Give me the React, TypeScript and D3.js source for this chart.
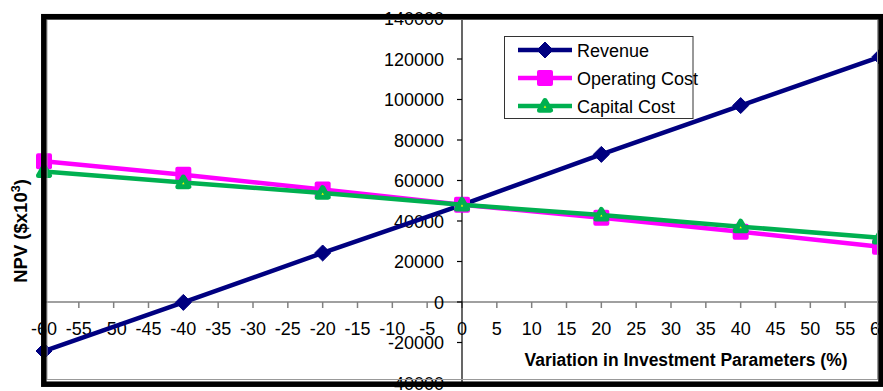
import React from "react";
import * as d3 from "d3";

// Sensitivity of NPV to variation in investment parameters
const variation = [-60, -40, -20, 0, 20, 40, 60];
const revenue = [-24200, -200, 24200, 48000, 72900, 97000, 121100];
const operatingCost = [69500, 62800, 55500, 48000, 41600, 34700, 27300];
const capitalCost = [64500, 59000, 53800, 48000, 43000, 37200, 31700];

const seriesNames = ["Revenue", "Operating Cost", "Capital Cost"];
const xTicks = d3.range(-60, 61, 5);
const yTicks = d3.range(-40000, 140001, 20000);

const W = 883;
const H = 391;
const FONT = "'Liberation Sans', Arial, sans-serif";

const NAVY = "#000080";
const MAGENTA = "#FF00FF";
const GREEN = "#00B050";
const YELLOW = "#FFFF00";

type Kind = "diamond" | "square" | "triangle";

function Marker({ kind, x, y }: { kind: Kind; x: number; y: number }) {
  if (kind === "diamond") {
    const r = 8;
    return (
      <path
        d={`M${x},${y - r}L${x + r},${y}L${x},${y + r}L${x - r},${y}Z`}
        fill={NAVY}
        stroke={NAVY}
        strokeWidth={1}
        strokeLinejoin="round"
      />
    );
  }
  if (kind === "square") {
    const s = 16;
    return <rect x={x - s / 2} y={y - s / 2} width={s} height={s} rx={2} fill={MAGENTA} />;
  }
  const h = 5.5;
  return (
    <path
      d={`M${x},${y - h}L${x + h},${y + h * 0.75}L${x - h},${y + h * 0.75}Z`}
      fill={YELLOW}
      stroke={GREEN}
      strokeWidth={5}
      strokeLinejoin="round"
    />
  );
}

export default function App() {
  const x = d3.scaleLinear().domain([-60, 60]).range([44, 880]);
  const y = d3.scaleLinear().domain([-40000, 140000]).range([383, 18.5]);

  const series: { name: string; values: number[]; color: string; kind: Kind }[] = [
    { name: seriesNames[0], values: revenue, color: NAVY, kind: "diamond" },
    { name: seriesNames[1], values: operatingCost, color: MAGENTA, kind: "square" },
    { name: seriesNames[2], values: capitalCost, color: GREEN, kind: "triangle" },
  ];

  const line = d3
    .line<number>()
    .x((_, i) => x(variation[i]))
    .y((d) => y(d));

  const legendRows = [50, 78, 106];

  return (
    <svg
      width={W}
      height={H}
      viewBox={`0 0 ${W} ${H}`}
      style={{ position: "absolute", left: 0, top: 0, background: "#fff" }}
      fontFamily={FONT}
    >
      <rect x={0} y={0} width={W} height={H} fill="#fff" />

      {/* horizontal axis at zero */}
      <line x1={x(-60)} x2={x(60)} y1={y(0)} y2={y(0)} stroke="#808080" strokeWidth={1.5} />
      {xTicks.map((t) => (
        <line key={`xt${t}`} x1={x(t)} x2={x(t)} y1={y(0)} y2={y(0) + 6} stroke="#808080" strokeWidth={1.5} />
      ))}
      {xTicks.map((t) => (
        <text key={`xl${t}`} x={x(t)} y={y(0) + 33} textAnchor="middle" fontSize={18} fill="#000">
          {t}
        </text>
      ))}

      {/* vertical axis at zero */}
      <line x1={x(0)} x2={x(0)} y1={y(140000)} y2={y(-40000)} stroke="#000" strokeWidth={1.2} />
      {yTicks.map((t) => (
        <line key={`yt${t}`} x1={x(0) - 5} x2={x(0)} y1={y(t)} y2={y(t)} stroke="#000" strokeWidth={1.2} />
      ))}
      {yTicks.map((t) => (
        <text key={`yl${t}`} x={x(0) - 18} y={y(t) + 6.5} textAnchor="end" fontSize={18} fill="#000">
          {t}
        </text>
      ))}

      {/* series */}
      {series.map((s) => (
        <g key={s.name}>
          <path d={line(s.values) ?? ""} fill="none" stroke={s.color} strokeWidth={4.5} />
          {s.values.map((v, i) => (
            <Marker key={i} kind={s.kind} x={x(variation[i])} y={y(v)} />
          ))}
        </g>
      ))}

      {/* legend */}
      <rect x={504.5} y={36.5} width={188.5} height={82} fill="#fff" stroke="#333" strokeWidth={1} />
      {series.map((s, i) => (
        <g key={`lg${s.name}`}>
          <line x1={518} x2={572} y1={legendRows[i]} y2={legendRows[i]} stroke={s.color} strokeWidth={4.5} />
          <Marker kind={s.kind} x={545} y={legendRows[i]} />
          <text x={577} y={legendRows[i] + 6.5} fontSize={18} fill="#000">
            {s.name}
          </text>
        </g>
      ))}

      {/* axis titles */}
      <text x={686} y={366} textAnchor="middle" fontSize={18} fontWeight="bold" fill="#000" textLength={323} lengthAdjust="spacingAndGlyphs">
        Variation in Investment Parameters (%)
      </text>
      <text
        transform="translate(27,231) rotate(-90)"
        textAnchor="middle"
        fontSize={18.5}
        fontWeight="bold"
        fill="#000"
      >
        NPV ($x10
        <tspan fontSize={12.5} dy={-7}>
          3
        </tspan>
        <tspan dy={7}>)</tspan>
      </text>

      {/* plot frame */}
      <rect x={47} y={19.5} width={830.5} height={360} fill="none" stroke="#999" strokeWidth={1} />
      <rect x={43.8} y={16.7} width={837.2} height={367.5} fill="none" stroke="#000" strokeWidth={5.5} />
    </svg>
  );
}
